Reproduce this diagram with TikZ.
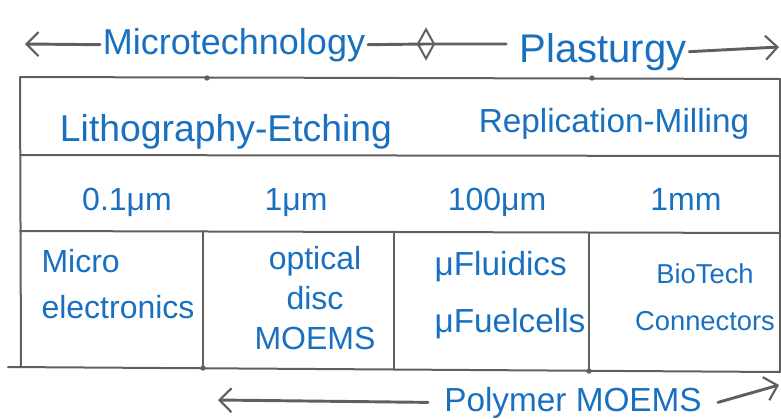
\documentclass[tikz,border=0pt]{standalone}
\usepackage{fontspec}
\setmainfont{Liberation Sans}
\usetikzlibrary{arrows.meta,shapes.geometric}
\definecolor{ink}{RGB}{25,112,192}
\definecolor{pencil}{RGB}{95,95,95}

\begin{document}
\begin{tikzpicture}[x=0.75pt,y=-0.75pt,
  grid/.style={draw=pencil,line width=1.5pt,line cap=round},
  axis/.style={draw=pencil,line width=2.2pt,line cap=round},
  tip/.style={-{Straight Barb[length=9pt,width=18pt,line width=1.6pt]}},
  hand/.style={text=ink,inner ysep=0pt,inner xsep=2pt},
  fs/.style={font=\fontsize{#1}{#1}\selectfont}]
\useasboundingbox (0,0) rectangle (781,418);

% ---- headline: two technology ranges ----
\node[hand,anchor=base,fs=27] (micro) at (234,54) {Microtechnology};
\node[hand,anchor=base,fs=30] (plast) at (603,62) {Plasturgy};
\node[diamond,draw=pencil,line width=1.5pt,inner sep=0pt,
      minimum width=12.75pt,minimum height=22.5pt] (dia) at (426,44) {};
\coordinate (tl) at (25,44);
\coordinate (tr) at (779,47);
\draw[axis,tip] (micro.west) -- (tl);
\draw[axis,shorten >=8pt] (micro.east) -- (dia.center) -- (dia.east -| plast.west);
\draw[axis,tip] (plast.east) -- (tr);

% ---- table ----
\draw[grid] (20,77) -- (780,79);
\draw[grid] (20,155) -- (780,156);
\draw[grid] (20,231) -- (780,233);
\draw[grid] (8,367) -- (780,372);
\draw[grid] (20,77) -- (21,367);
\draw[grid] (780,79) -- (780,372);
\draw[grid] (203,231) -- (203,368);
\draw[grid] (394,233) -- (394,369);
\draw[grid] (589,233) -- (589,371);
\foreach \p in {(207,78),(592,78),(203,368),(589,371)}
  \fill[pencil] \p circle[radius=2pt];

% processes
\node[hand,anchor=base,fs=28] (litho) at (226,141) {Lithography-Etching};
\node[hand,anchor=base,fs=25] (repl) at (614,132) {Replication-Milling};

% scales
\node[hand,anchor=base,fs=24] (s1) at (127,210) {0.1μm};
\node[hand,anchor=base,fs=24] (s2) at (296,210) {1μm};
\node[hand,anchor=base,fs=24] (s3) at (497,210) {100μm};
\node[hand,anchor=base,fs=24] (s4) at (686,210) {1mm};

% applications
\node[hand,align=left,font=\fontsize{24}{35}\selectfont] (c1) at (118,284) {Micro\\electronics};
\node[hand,align=center,font=\fontsize{24}{30}\selectfont] (c2) at (315,298) {optical\\disc\\MOEMS};
\node[hand,align=left,font=\fontsize{25}{43}\selectfont] (c3) at (510,295) {μFluidics\\μFuelcells};
\node[hand,align=center,font=\fontsize{20.5}{35}\selectfont] (c4) at (705,297) {BioTech\\Connectors};

% ---- bottom range ----
\node[hand,anchor=base,fs=25,inner xsep=12pt] (poly) at (573,411) {Polymer MOEMS};
\coordinate (bl) at (218,400);
\coordinate (br) at (779,385);
\draw[axis,tip] (poly.west) -- (bl);
\draw[axis,tip] (poly.east) -- (br);
\end{tikzpicture}
\end{document}
